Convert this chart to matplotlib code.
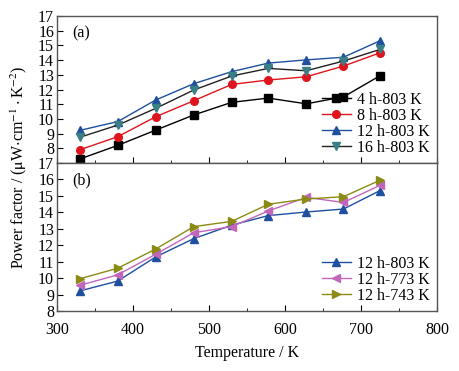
import matplotlib
matplotlib.use("Agg")
import matplotlib.pyplot as plt
from matplotlib.ticker import MultipleLocator

plt.rcParams["font.family"] = ["Liberation Serif", "DejaVu Serif"]
plt.rcParams["font.size"] = 11.5
plt.rcParams["mathtext.fontset"] = "stix"

# temperature points (K)
temps = [330, 380, 430, 480, 530, 578, 628, 677, 725]

# (a) different annealing times at 803 K
pf_4h_803 = [7.27, 8.2, 9.24, 10.27, 11.13, 11.42, 11.03, 11.5, 12.94]
pf_8h_803 = [7.9, 8.79, 10.15, 11.24, 12.35, 12.65, 12.87, 13.6, 14.5]
pf_12h_803 = [9.22, 9.82, 11.29, 12.4, 13.22, 13.8, 14.02, 14.2, 15.32]
pf_16h_803 = [8.75, 9.58, 10.72, 11.97, 12.92, 13.44, 13.28, 13.94, 14.73]

# (b) 12 h at different temperatures
pf_12h_773 = [9.56, 10.2, 11.45, 12.76, 13.13, 14.08, 14.91, 14.6, 15.64]
pf_12h_743 = [9.96, 10.6, 11.77, 13.13, 13.45, 14.49, 14.81, 14.95, 15.95]

fig = plt.figure(figsize=(4.59, 3.71), dpi=100)
ax_a = fig.add_axes([0.124, 0.5606, 0.828, 0.396])
ax_b = fig.add_axes([0.124, 0.1617, 0.828, 0.399])

ms = 5.5
ax_a.plot(temps, pf_4h_803, color="black", marker="s", ms=ms, lw=1.0,
          label="4 h-803 K")
ax_a.plot(temps, pf_8h_803, color="#e0141c", marker="o", ms=ms, lw=1.0,
          label="8 h-803 K")
ax_a.plot(temps, pf_12h_803, color="#1f4f9f", marker="^", ms=ms + 0.5, lw=1.0,
          label="12 h-803 K")
ax_a.plot(temps, pf_16h_803, color="#222222", marker="v", ms=ms + 0.5, lw=1.0,
          mfc="#3a7f86", mec="#3a7f86", label="16 h-803 K")

ax_b.plot(temps, pf_12h_803, color="#1f4f9f", marker="^", ms=ms + 0.5, lw=1.0,
          label="12 h-803 K")
ax_b.plot(temps, pf_12h_773, color="#c266bc", marker="<", ms=ms + 0.5, lw=1.0,
          label="12 h-773 K")
ax_b.plot(temps, pf_12h_743, color="#8a8a14", marker=">", ms=ms + 0.5, lw=1.0,
          label="12 h-743 K")

for ax in (ax_a, ax_b):
    ax.set_xlim(300, 800)
    ax.xaxis.set_major_locator(MultipleLocator(100))
    ax.xaxis.set_minor_locator(MultipleLocator(50))
    ax.yaxis.set_major_locator(MultipleLocator(1))
    ax.tick_params(which="both", direction="in", top=False, right=False,
                   labelsize=11.5, pad=2)
    ax.tick_params(which="major", length=4)
    ax.tick_params(which="minor", length=2.5)
    for sp in ax.spines.values():
        sp.set_color("#555555")
        sp.set_linewidth(1.0)
    ax.legend(loc="lower right", frameon=False, fontsize=11.5,
              handlelength=1.8, handletextpad=0.4, labelspacing=0.0,
              borderaxespad=0.05)

ax_a.set_ylim(7, 17)
ax_a.set_yticks(range(8, 18))
ax_a.tick_params(axis="x", labelbottom=False)
ax_b.set_ylim(8, 17)
ax_b.set_yticks(range(8, 18))
ax_b.tick_params(axis="x", pad=8)

ax_a.text(0.04, 0.885, "(a)", transform=ax_a.transAxes, fontsize=11.5,
          va="center")
ax_b.text(0.04, 0.885, "(b)", transform=ax_b.transAxes, fontsize=11.5,
          va="center")

ax_b.set_xlabel("Temperature / K", fontsize=11.5, labelpad=5)
fig.text(0.04, 0.55,
         r"Power factor / ($\mathrm{\mu}$W$\cdot$cm$^{-1}\cdot$K$^{-2}$)",
         rotation=90, ha="center", va="center", fontsize=11.5)

fig.savefig("out.png", dpi=100)
